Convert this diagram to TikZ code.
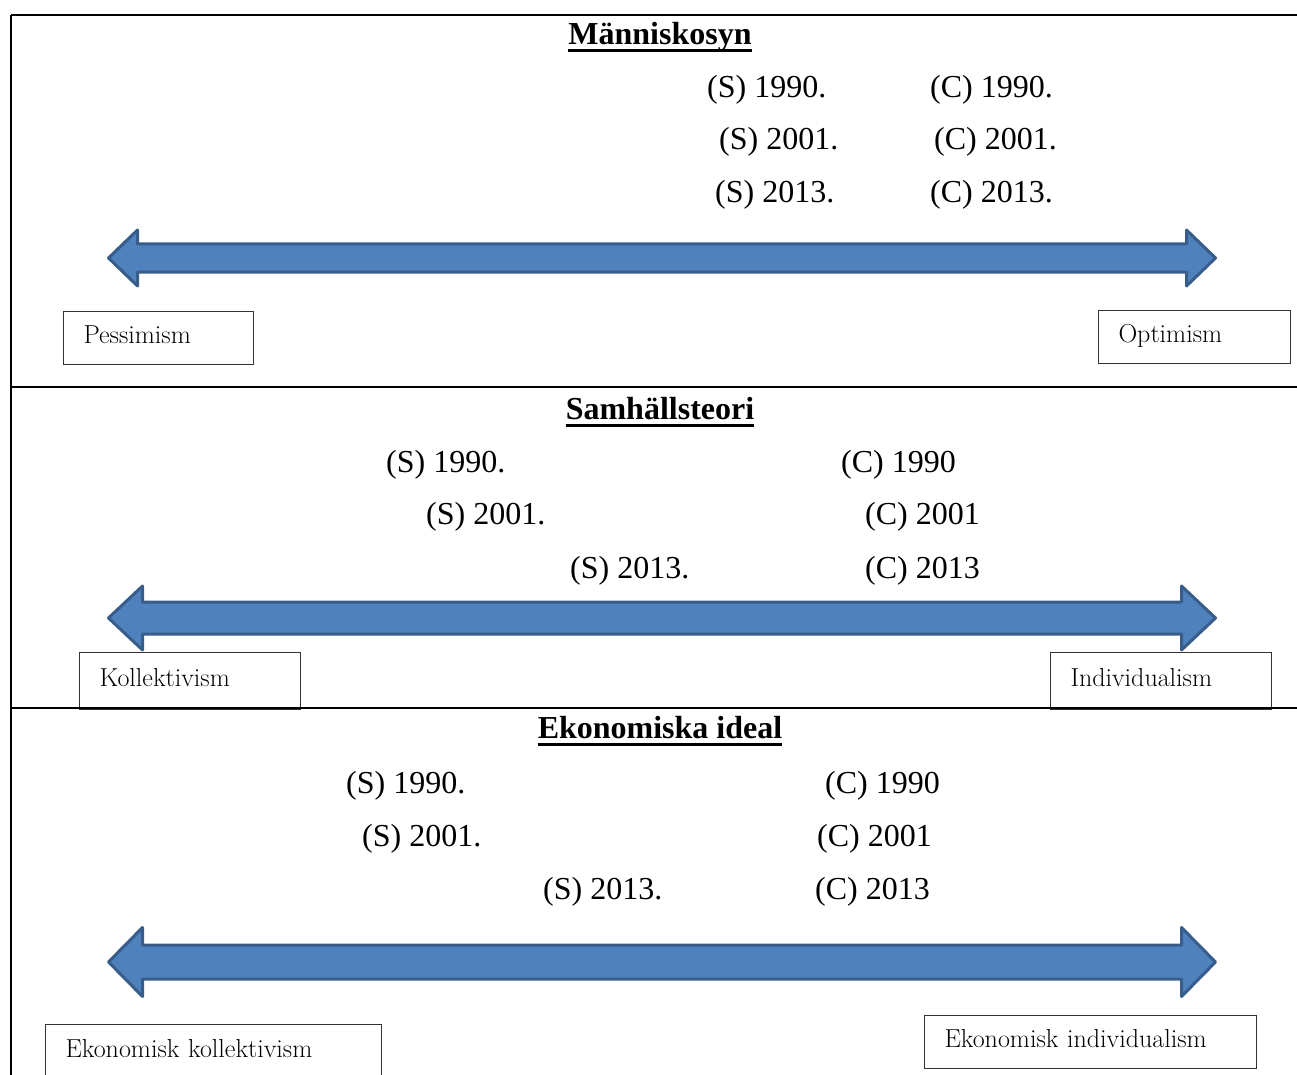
\documentclass[tikz,border=0pt]{standalone}
\usepackage{fontspec}
\newfontfamily\tnr{Liberation Serif}
\definecolor{arrfill}{HTML}{4F81BD}
\definecolor{arrline}{HTML}{385D8A}
\newcommand\dblarr[4]{% #1 centre y, #2 head length, #3 head half-height, #4 shaft half-height
  \draw[bigarrow] (108.5,#1) -- (108.5+#2,#1-#3) -- (108.5+#2,#1-#4) -- (1215.5-#2,#1-#4)
    -- (1215.5-#2,#1-#3) -- (1215.5,#1) -- (1215.5-#2,#1+#3) -- (1215.5-#2,#1+#4)
    -- (108.5+#2,#1+#4) -- (108.5+#2,#1+#3) -- cycle;}
\begin{document}
\begin{tikzpicture}[x=1pt,y=-1pt,
  yr/.style={anchor=base west, inner sep=0pt, font=\tnr\fontsize{32}{38}\selectfont},
  ttl/.style={anchor=base, inner sep=0pt, font=\tnr\bfseries\fontsize{32}{38}\selectfont},
  lbox/.style={draw=black!80, line width=1pt, anchor=north west, inner xsep=20pt, inner ysep=0pt,
    text height=18pt, text depth=7pt, align=left, font=\fontsize{26}{31}\selectfont},
  frame/.style={line width=2.2pt, black},
  uline/.style={line width=3pt, black},
  bigarrow/.style={fill=arrfill, draw=arrline, line width=3pt, line join=round}]
\useasboundingbox (0,0) rectangle (1297,1075);

% ---------- Section 1 ----------
\node[ttl] (t1) at (660,45) {Människosyn};
\draw[uline] ([yshift=-6pt]t1.base west) -- ([yshift=-6pt]t1.base east);
\node[yr] (a1) at (707,98) {(S) 1990.};
\node[yr] (a2) at (719,150) {(S) 2001.};
\node[yr] (a3) at (715,203) {(S) 2013.};
\node[yr] (b1) at (930,98) {(C) 1990.};
\node[yr] (b2) at (934,150) {(C) 2001.};
\node[yr] (b3) at (930,203) {(C) 2013.};
\dblarr{258}{29}{28}{14}
\node[lbox, minimum width=190pt, minimum height=53pt, text width=150pt] (pess) at (63,311) {Pessimism};
\node[lbox, minimum width=192pt, minimum height=53pt, text width=152pt] (opt) at (1098,310) {Optimism};

% ---------- Section 2 ----------
\node[ttl] (t2) at (660,419) {Samhällsteori};
\draw[uline] ([yshift=-6pt]t2.base west) -- ([yshift=-6pt]t2.base east);
\node[yr] (c1) at (386,472) {(S) 1990.};
\node[yr] (c2) at (426,524) {(S) 2001.};
\node[yr] (c3) at (570,578) {(S) 2013.};
\node[yr] (d1) at (841,472) {(C) 1990};
\node[yr] (d2) at (865,524) {(C) 2001};
\node[yr] (d3) at (865,578) {(C) 2013};
\dblarr{618}{34}{32}{16}
\node[lbox, minimum width=221pt, minimum height=57pt, text width=181pt] (koll) at (79,652) {Kollektivism};
\node[lbox, minimum width=221pt, minimum height=57pt, text width=181pt] (indi) at (1050,652) {Individualism};

% ---------- Section 3 ----------
\node[ttl] (t3) at (660,738) {Ekonomiska ideal};
\draw[uline] ([yshift=-6pt]t3.base west) -- ([yshift=-6pt]t3.base east);
\node[yr] (e1) at (346,793) {(S) 1990.};
\node[yr] (e2) at (362,846) {(S) 2001.};
\node[yr] (e3) at (543,899) {(S) 2013.};
\node[yr] (f1) at (825,793) {(C) 1990};
\node[yr] (f2) at (817,846) {(C) 2001};
\node[yr] (f3) at (815,899) {(C) 2013};
\dblarr{962}{34}{34.5}{17}
\node[lbox, minimum width=336pt, minimum height=55pt, text width=296pt] (ekoll) at (45,1024) {Ekonomisk kollektivism};
\node[lbox, minimum width=332pt, minimum height=53pt, text width=292pt] (eindi) at (924,1015) {Ekonomisk individualism};

% ---------- Frame ----------
\draw[frame] (11,15) -- (1297,15);
\draw[frame] (11,15) -- (11,1075);
\draw[frame] (11,387) -- (1297,387);
\draw[frame] (11,708) -- (1297,708);
\end{tikzpicture}
\end{document}
